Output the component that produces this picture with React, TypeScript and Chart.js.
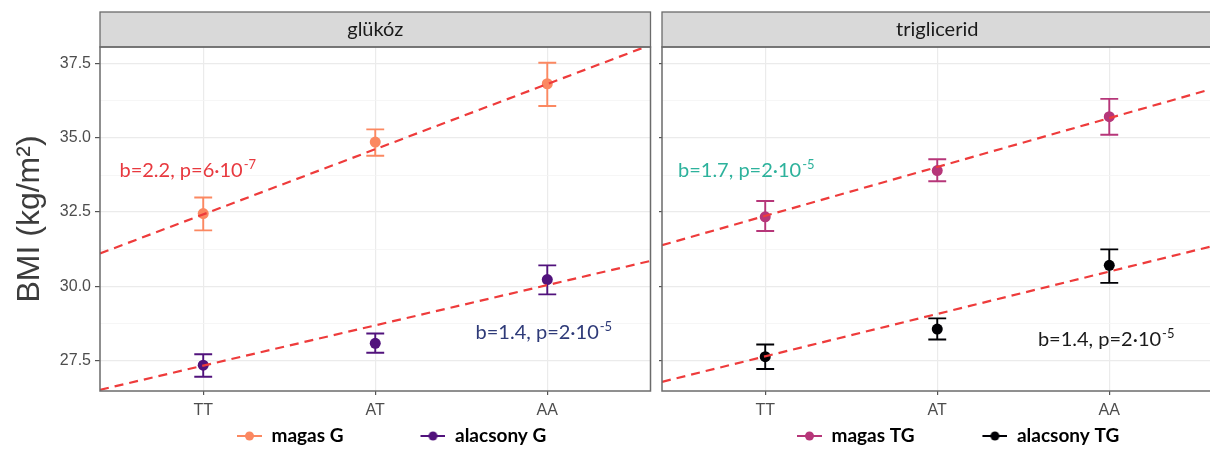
import React, { useEffect, useRef } from 'react';
import { Chart, registerables } from 'chart.js';

Chart.register(...registerables);

// ---------- data ----------
const categories = ['TT', 'AT', 'AA'];
const yTickLabels = [27.5, 30.0, 32.5, 35.0, 37.5];
const yMinorTicks = [28.75, 31.25, 33.75, 36.25];
const yRange = [26.46, 38.07];
const xRange = [-0.6, 2.6];

// glükóz panel
const magasG = [32.45, 34.86, 36.83];
const magasGLow = [31.88, 34.4, 36.08];
const magasGHigh = [32.99, 35.29, 37.54];
const alacsonyG = [27.33, 28.07, 30.22];
const alacsonyGLow = [26.94, 27.75, 29.72];
const alacsonyGHigh = [27.7, 28.4, 30.7];
const fitMagasG = [31.1, 38.14]; // at xRange ends
const fitAlacsonyG = [26.5, 30.85];

// triglicerid panel
const magasTG = [32.34, 33.9, 35.72];
const magasTGLow = [31.86, 33.54, 35.11];
const magasTGHigh = [32.87, 34.28, 36.32];
const alacsonyTG = [27.62, 28.55, 30.7];
const alacsonyTGLow = [27.2, 28.2, 30.11];
const alacsonyTGHigh = [28.03, 28.91, 31.24];
const fitMagasTG = [31.38, 36.66];
const fitAlacsonyTG = [26.77, 31.35];

// ---------- styles ----------
const SANS = "'Liberation Sans', Arial, sans-serif";
const HUMAN = "Lato, 'Open Sans', sans-serif";
const FIT_COLOR = '#EE3B3B';
const CAP_HALF = 0.052;
const LEGEND_PAD = 0;
const LEGEND_CENTER_Y = 436;

type Series = { label: string; color: string; values: number[]; low: number[]; high: number[] };
type Note = { main: string; sup: string; x: number; y: number; color: string };
type Panel = {
  strip: string;
  series: Series[];
  fits: number[][];
  notes: Note[];
  showY: boolean;
  legendSymbolStart: number;
  legendBoxWidth: number;
};

const leftPanel: Panel = {
  strip: 'glükóz',
  series: [
    { label: 'magas G', color: '#FB8861', values: magasG, low: magasGLow, high: magasGHigh },
    { label: 'alacsony G', color: '#51127C', values: alacsonyG, low: alacsonyGLow, high: alacsonyGHigh },
  ],
  fits: [fitMagasG, fitAlacsonyG],
  notes: [
    { main: 'b=2.2, p=6·10', sup: '-7', x: -0.487, y: 33.68, color: '#E8393F' },
    { main: 'b=1.4, p=2·10', sup: '-5', x: 1.583, y: 28.2, color: '#2E3A78' },
  ],
  showY: true,
  legendSymbolStart: 237,
  legendBoxWidth: 102,
};

const rightPanel: Panel = {
  strip: 'triglicerid',
  series: [
    { label: 'magas TG', color: '#B63679', values: magasTG, low: magasTGLow, high: magasTGHigh },
    { label: 'alacsony TG', color: '#000004', values: alacsonyTG, low: alacsonyTGLow, high: alacsonyTGHigh },
  ],
  fits: [fitMagasTG, fitAlacsonyTG],
  notes: [
    { main: 'b=1.7, p=2·10', sup: '-5', x: -0.507, y: 33.68, color: '#2DB29C' },
    { main: 'b=1.4, p=2·10', sup: '-5', x: 1.585, y: 27.98, color: '#1A1A1A' },
  ],
  showY: false,
  legendSymbolStart: 797 - 656,
  legendBoxWidth: 93,
};

function errorBarPoints(lo: number[], hi: number[]) {
  const pts: any[] = [];
  categories.forEach((_, i) => {
    pts.push(
      { x: i - CAP_HALF, y: hi[i] },
      { x: i + CAP_HALF, y: hi[i] },
      { x: i, y: hi[i] },
      { x: i, y: lo[i] },
      { x: i - CAP_HALF, y: lo[i] },
      { x: i + CAP_HALF, y: lo[i] },
      { x: i, y: null }
    );
  });
  return pts;
}

function makeSymbol(color: string, w: number) {
  const c = document.createElement('canvas');
  c.width = w;
  c.height = 12;
  const ctx = c.getContext('2d')!;
  ctx.strokeStyle = color;
  ctx.lineWidth = 2;
  ctx.beginPath();
  ctx.moveTo(w - 25, 6);
  ctx.lineTo(w, 6);
  ctx.stroke();
  ctx.fillStyle = color;
  ctx.beginPath();
  ctx.arc(w - 12.5, 6, 4.5, 0, Math.PI * 2);
  ctx.fill();
  return c;
}

const majorSet = new Set(yTickLabels);

function makeConfig(p: Panel): any {
  const datasets: any[] = [];
  p.fits.forEach((f) => {
    datasets.push({
      type: 'line',
      data: [
        { x: xRange[0], y: f[0] },
        { x: xRange[1], y: f[1] },
      ],
      borderColor: FIT_COLOR,
      borderWidth: 2.2,
      borderDash: [9, 6],
      pointRadius: 0,
      showLine: true,
      fill: false,
    });
  });
  p.series.forEach((s) => {
    datasets.push({
      label: s.label,
      showInLegend: true,
      data: s.values.map((v, i) => ({ x: i, y: v })),
      backgroundColor: s.color,
      borderColor: s.color,
      borderWidth: 0,
      pointRadius: 5.5,
      showLine: false,
    });
  });
  p.series.forEach((s) => {
    datasets.push({
      type: 'line',
      data: errorBarPoints(s.low, s.high),
      borderColor: s.color,
      borderWidth: 1.9,
      pointRadius: 0,
      showLine: true,
      spanGaps: false,
      fill: false,
    });
  });

  const legendShift = {
    id: 'legendShift',
    afterLayout(chart: any) {
      const lg = chart.legend;
      if (!lg || !lg.lineWidths) return;
      const pad = lg.options.labels.padding;
      const fs = lg.options.labels.font.size || 19;
      const lw = lg.lineWidths[0];
      const curX = (lg.left + pad + lg.right - lw) / 2;
      const wantX = p.legendSymbolStart - (p.legendBoxWidth - 25);
      const dx = wantX - curX;
      const dy = LEGEND_CENTER_Y - (lg.top + pad + fs / 2);
      lg.left += dx;
      lg.right += dx;
      lg.top += dy;
      lg.bottom += dy;
    },
  };

  const decor = {
    id: 'decor',
    afterDatasetsDraw(chart: any) {
      const { ctx, scales } = chart;
      const ca = chart.chartArea;
      ctx.save();
      ctx.beginPath();
      ctx.rect(ca.left, ca.top, ca.right - ca.left, ca.bottom - ca.top);
      ctx.clip();
      p.notes.forEach((n) => {
        const px = scales.x.getPixelForValue(n.x);
        const py = scales.y.getPixelForValue(n.y);
        ctx.fillStyle = n.color;
        ctx.textAlign = 'left';
        ctx.textBaseline = 'alphabetic';
        ctx.font = `20px ${HUMAN}`;
        ctx.fillText(n.main, px, py);
        const w = ctx.measureText(n.main).width;
        ctx.font = `13px ${HUMAN}`;
        ctx.fillText(n.sup, px + w + 1, py - 8);
      });
      ctx.restore();
    },
    afterDraw(chart: any) {
      const { ctx } = chart;
      const ca = chart.chartArea;
      ctx.save();
      // strip
      const top = 12;
      ctx.fillStyle = '#D9D9D9';
      ctx.fillRect(ca.left, top, ca.right - ca.left, ca.top - top);
      ctx.strokeStyle = '#6B6B6B';
      ctx.lineWidth = 1.3;
      ctx.strokeRect(ca.left, top, ca.right - ca.left, ca.top - top);
      ctx.fillStyle = '#1A1A1A';
      ctx.font = `20px ${HUMAN}`;
      ctx.textAlign = 'center';
      ctx.textBaseline = 'alphabetic';
      ctx.fillText(p.strip, (ca.left + ca.right) / 2, 36);
      // panel border
      ctx.strokeStyle = '#6B6B6B';
      ctx.lineWidth = 1.5;
      ctx.strokeRect(ca.left, ca.top, ca.right - ca.left, ca.bottom - ca.top);
      ctx.restore();
    },
  };

  return {
    type: 'scatter',
    data: { datasets },
    plugins: [legendShift, decor],
    options: {
      responsive: false,
      animation: false,
      devicePixelRatio: 1,
      events: [],
      layout: { padding: { top: 47, right: 4, left: 0, bottom: 0 } },
      scales: {
        x: {
          type: 'linear',
          min: xRange[0],
          max: xRange[1],
          bounds: 'data',
          afterBuildTicks: (s: any) => {
            s.ticks = categories.map((_, i) => ({ value: i }));
          },
          afterFit: (s: any) => {
            s.height = 30;
          },
          ticks: {
            autoSkip: false,
            maxRotation: 0,
            padding: 6,
            color: '#4D4D4D',
            font: { family: SANS, size: 16 },
            callback: (v: number) => categories[Math.round(v)],
          },
          grid: { color: '#EBEBEB', lineWidth: 1.2, tickLength: 4, tickColor: '#555555' },
          border: { display: false },
        },
        y: {
          type: 'linear',
          min: yRange[0],
          max: yRange[1],
          bounds: 'data',
          afterBuildTicks: (s: any) => {
            s.ticks = [...yTickLabels, ...yMinorTicks].sort((a, b) => a - b).map((v) => ({ value: v }));
          },
          afterFit: (s: any) => {
            s.width = p.showY ? 100 : 6;
          },
          ticks: {
            display: p.showY,
            autoSkip: false,
            padding: 4,
            color: '#4D4D4D',
            font: { family: SANS, size: 16 },
            callback: (v: number) => (majorSet.has(v) ? v.toFixed(1) : ''),
          },
          grid: {
            color: (c: any) => (c.tick && majorSet.has(c.tick.value) ? '#EBEBEB' : '#F4F4F4'),
            lineWidth: (c: any) => (c.tick && majorSet.has(c.tick.value) ? 1.2 : 0.8),
            tickLength: p.showY ? 5 : 3,
            tickColor: (c: any) => (c.tick && majorSet.has(c.tick.value) ? '#555555' : 'rgba(0,0,0,0)'),
          },
          border: { display: false },
          title: {
            display: p.showY,
            text: 'BMI (kg/m²)',
            color: '#3C3C3C',
            font: { family: SANS, size: 32 },
            padding: { top: 11, bottom: 0 },
          },
        },
      },
      plugins: {
        tooltip: { enabled: false },
        legend: {
          display: true,
          position: 'bottom',
          labels: {
            usePointStyle: true,
            pointStyleWidth: p.legendBoxWidth,
            padding: LEGEND_PAD,
            color: '#000000',
            font: { family: HUMAN, size: 19, weight: 'bold' },
            generateLabels: (chart: any) =>
              chart.data.datasets
                .map((ds: any, i: number) => ({ ds, i }))
                .filter(({ ds }: any) => ds.showInLegend)
                .map(({ ds, i }: any) => ({
                  text: ds.label,
                  pointStyle: makeSymbol(ds.backgroundColor, p.legendBoxWidth),
                  datasetIndex: i,
                  hidden: false,
                  fillStyle: ds.backgroundColor,
                  strokeStyle: ds.backgroundColor,
                  lineWidth: 0,
                  fontColor: '#000000',
                })),
          },
        },
      },
    },
  };
}

export default function App() {
  const leftRef = useRef<HTMLCanvasElement>(null);
  const rightRef = useRef<HTMLCanvasElement>(null);
  useEffect(() => {
    const c1 = new Chart(leftRef.current!, makeConfig(leftPanel));
    const c2 = new Chart(rightRef.current!, makeConfig(rightPanel));
    return () => {
      c1.destroy();
      c2.destroy();
    };
  }, []);
  return (
    <div
      style={{
        position: 'absolute',
        left: 0,
        top: 0,
        width: 1210,
        height: 450,
        overflow: 'hidden',
        background: '#ffffff',
      }}
    >
      <canvas
        ref={leftRef}
        width={656}
        height={450}
        style={{ position: 'absolute', left: 0, top: 0, width: 656, height: 450 }}
      />
      <canvas
        ref={rightRef}
        width={562}
        height={450}
        style={{ position: 'absolute', left: 656, top: 0, width: 562, height: 450 }}
      />
    </div>
  );
}
